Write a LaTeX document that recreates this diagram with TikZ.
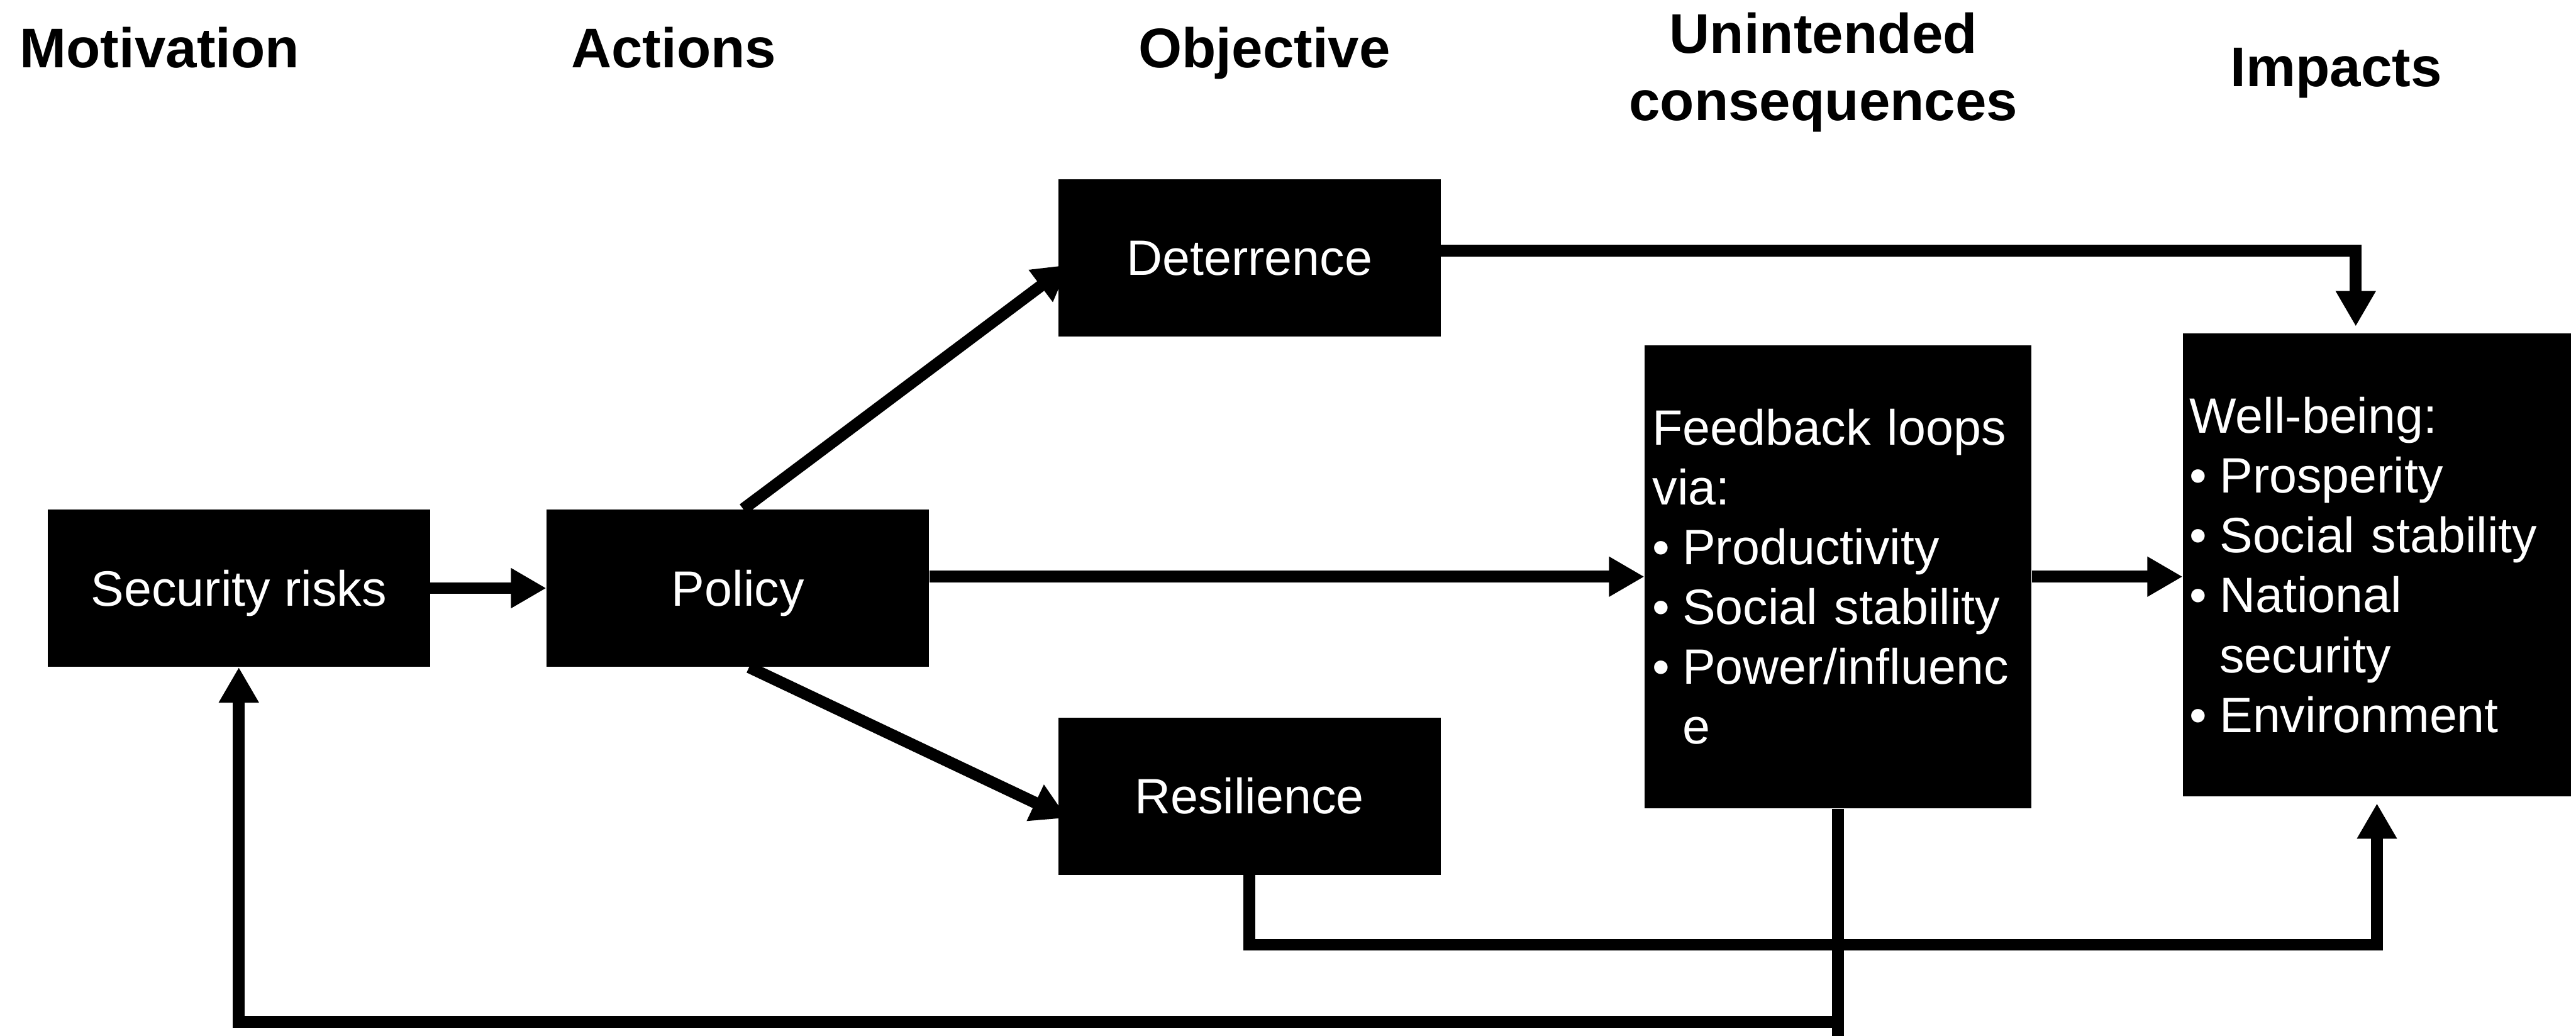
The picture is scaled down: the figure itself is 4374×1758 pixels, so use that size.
\documentclass[tikz,border=0pt]{standalone}
\usepackage{fontspec}
\setmainfont{Liberation Sans}
\usetikzlibrary{arrows.meta,calc}
\tikzset{
  box/.style={fill=black, text=white, inner sep=0pt, minimum width=6.49cm, minimum height=2.67cm,
    font=\fontsize{24}{29}\selectfont, text height=0.6cm, text depth=0cm},
  listbox/.style={fill=black, text=white, inner ysep=0pt, align=left, minimum height=7.86cm,
    font=\fontsize{24}{28.9}\selectfont},
  title/.style={font=\bfseries\fontsize{27}{32.7}\selectfont, anchor=base, inner sep=0pt, align=center},
  conn/.style={line width=0.2cm},
  arr/.style={conn, -{Triangle[length=0.6cm,width=0.64cm]}},
}
\newcommand{\bul}{\makebox[0.51cm][l]{•}}
\newcommand{\hang}{\hspace*{0.51cm}}
\begin{document}
\begin{tikzpicture}[x=0.01cm,y=-0.01cm]
\useasboundingbox (0,0) rectangle (4374,1758);

% titles
\node[title] (t1) at (271,115) {Motivation};
\node[title] (t2) at (1144,115) {Actions};
\node[title] (t3) at (2147,115) {Objective};
\node[title] (t4) at (3096,205) {Unintended\\consequences};
\node[title] (t5) at (3967,147) {Impacts};

% boxes
\node[box] (sec) at (405.5,998.5) {Security risks};
\node[box] (pol) at (1253,998.5) {Policy};
\node[box] (det) at (2121.5,437.5) {Deterrence};
\node[box] (res) at (2121.5,1351.5) {Resilience};
\node[listbox, inner xsep=0.13cm, text width=6.30cm] (fb) at (3121,979)
  {Feedback loops\\via:\\\bul Productivity\\\bul Social stability\\\bul Power/influenc\\\hang e};
\node[listbox, inner xsep=0.11cm, text width=6.36cm] (wb) at (4036,959)
  {Well-being:\\\bul Prosperity\\\bul Social stability\\\bul National\\\hang security\\\bul Environment};

% connectors
\draw[arr] (sec.east) -- (pol.west);
\draw[arr] ($(pol.north)+(9,0)$) -- ($(det.west)+(19,12)$);
\draw[arr] ($(pol.south)+(19,0)$) -- ($(res.west)+(16,37)$);
\draw[arr] (pol.east |- fb.west) -- (fb.west);
\draw[arr] (fb.east) -- (fb.east -| wb.west);
\draw[arr, shorten >=0.11cm] ($(det.east)+(0,-12)$) -| ($(wb.north)+(-36,0)$);

\coordinate (r1) at (0,1604);
\draw[arr, shorten >=0.11cm] (res.south) |- (r1 -| wb.south) -- (wb.south);

\coordinate (b1) at (0,1735);
\coordinate (b2) at (0,1775);
\draw[conn] (fb.south) -- (fb.south |- b2);
\draw[arr] (fb.south |- b1) -| (sec.south);
\end{tikzpicture}
\end{document}
